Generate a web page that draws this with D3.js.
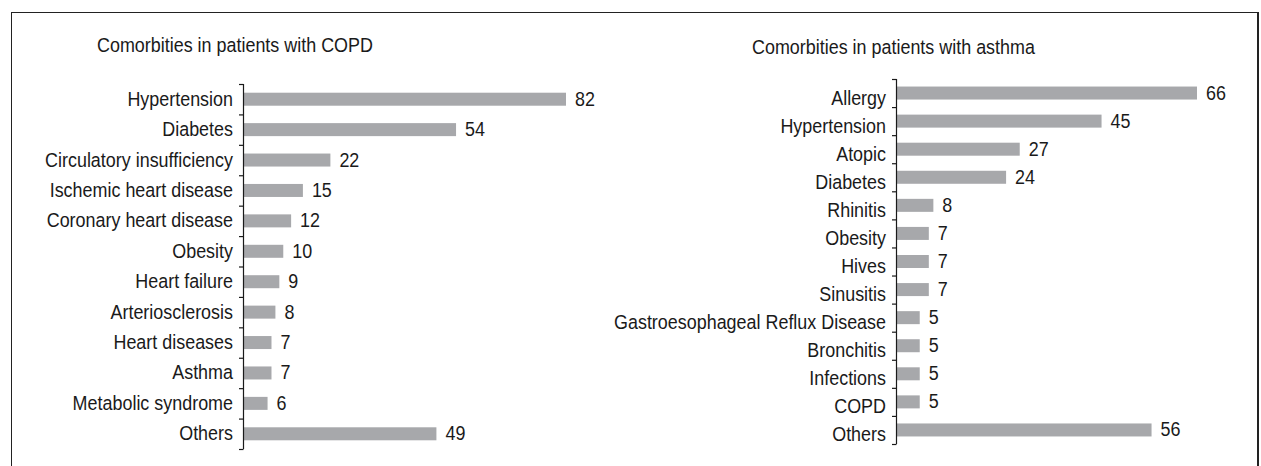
<!DOCTYPE html>
<html>
<head>
<meta charset="utf-8">
<script src="https://cdn.jsdelivr.net/npm/d3@7"></script>
<style>
  body { margin: 0; background: #fff; }
  text { font-family: "Liberation Sans", Arial, sans-serif; fill: #1a1a1a; }
</style>
</head>
<body>
<svg id="chart" width="1261" height="466"></svg>
<script>
// COPD panel data
const copdCategories = ['Hypertension', 'Diabetes', 'Circulatory insufficiency', 'Ischemic heart disease',
  'Coronary heart disease', 'Obesity', 'Heart failure', 'Arteriosclerosis', 'Heart diseases',
  'Asthma', 'Metabolic syndrome', 'Others'];
const copdValues = [82, 54, 22, 15, 12, 10, 9, 8, 7, 7, 6, 49];

// asthma panel data
const asthmaCategories = ['Allergy', 'Hypertension', 'Atopic', 'Diabetes', 'Rhinitis', 'Obesity', 'Hives',
  'Sinusitis', 'Gastroesophageal Reflux Disease', 'Bronchitis', 'Infections', 'COPD', 'Others'];
const asthmaValues = [66, 45, 27, 24, 8, 7, 7, 7, 5, 5, 5, 5, 56];

const titles = ['Comorbities in patients with COPD', 'Comorbities in patients with asthma'];

const svg = d3.select('#chart');
const FS = 19.5, SX = 0.92;  // slightly condensed look

// outer frame
svg.append('rect')
  .attr('x', 11.5).attr('y', 12.5)
  .attr('width', 1246).attr('height', 470)
  .attr('fill', 'none').attr('stroke', '#222').attr('stroke-width', 1);
svg.append('line')
  .attr('x1', 1258).attr('x2', 1258).attr('y1', 12).attr('y2', 466)
  .attr('stroke', '#222').attr('stroke-width', 2);

// text placed via transform so it can be squeezed horizontally
function place(x, y) { return `translate(${x},${y}) scale(${SX},1)`; }

function drawPanel(cfg) {
  const g = svg.append('g');

  const y = d3.scaleBand()
    .domain(cfg.categories)
    .range([cfg.top, cfg.bottom])
    .paddingInner(0).paddingOuter(0);

  const x = d3.scaleLinear()
    .domain([0, cfg.maxVal])
    .range([cfg.axisX, cfg.axisX + cfg.maxWidth]);

  const barH = 13;
  const data = cfg.categories.map((c, i) => ({ cat: c, val: cfg.values[i] }));

  // title
  g.append('text')
    .attr('transform', place(cfg.titleX, cfg.titleY))
    .attr('font-size', FS)
    .text(cfg.title);

  // bars
  g.selectAll('rect.bar')
    .data(data)
    .enter()
    .append('rect')
    .attr('class', 'bar')
    .attr('x', x(0) + 1)
    .attr('y', d => y(d.cat) + y.bandwidth() / 2 - barH / 2)
    .attr('width', d => x(d.val) - x(0))
    .attr('height', barH)
    .attr('fill', '#a7a8ab');

  // value labels
  g.selectAll('text.val')
    .data(data)
    .enter()
    .append('text')
    .attr('class', 'val')
    .attr('transform', d => place(x(d.val) + 10, y(d.cat) + y.bandwidth() / 2 + 6.5))
    .attr('font-size', FS)
    .text(d => d.val);

  // category labels
  g.selectAll('text.cat')
    .data(data)
    .enter()
    .append('text')
    .attr('class', 'cat')
    .attr('transform', d => place(cfg.axisX - 10, y(d.cat) + y.bandwidth() / 2 + 6.5 + cfg.labelShift))
    .attr('text-anchor', 'end')
    .attr('font-size', FS)
    .text(d => d.cat);

  // axis line and ticks at band edges
  g.append('line')
    .attr('x1', cfg.axisX + 0.5).attr('x2', cfg.axisX + 0.5)
    .attr('y1', cfg.top).attr('y2', cfg.bottom)
    .attr('stroke', '#1a1a1a').attr('stroke-width', 1.2);

  const edges = cfg.categories.map(c => y(c)).concat([cfg.bottom]);
  g.selectAll('line.tick')
    .data(edges)
    .enter()
    .append('line')
    .attr('class', 'tick')
    .attr('x1', cfg.axisX - 4).attr('x2', cfg.axisX + 0.5)
    .attr('y1', d => d + 0.5).attr('y2', d => d + 0.5)
    .attr('stroke', '#1a1a1a').attr('stroke-width', 1.2);
}

drawPanel({
  categories: copdCategories, values: copdValues, title: titles[0],
  titleX: 97, titleY: 52,
  axisX: 243, top: 84, bottom: 449,
  maxVal: 82, maxWidth: 322, labelShift: 0
});

drawPanel({
  categories: asthmaCategories, values: asthmaValues, title: titles[1],
  titleX: 752, titleY: 54,
  axisX: 896, top: 79, bottom: 444,
  maxVal: 66, maxWidth: 300, labelShift: 5
});
</script>
</body>
</html>
